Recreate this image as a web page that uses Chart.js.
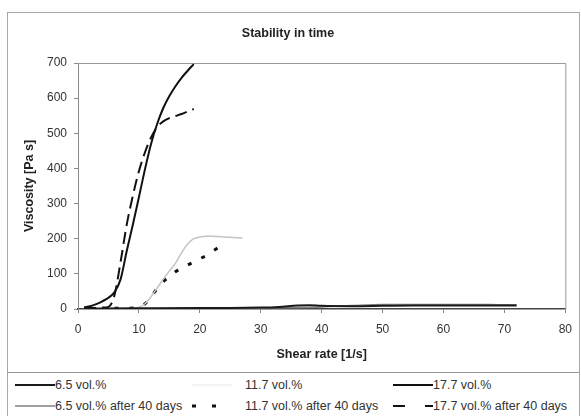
<!DOCTYPE html>
<html>
<head>
<meta charset="utf-8">
<script src="https://cdn.jsdelivr.net/npm/chart.js@4.4.1/dist/chart.umd.min.js"></script>
<style>
  html, body { margin: 0; padding: 0; background: #fff; }
  body { width: 581px; height: 416px; position: relative; overflow: hidden; font-family: "Liberation Sans", Arial, sans-serif; }
  .frame { position: absolute; left: 7px; top: 12px; width: 571px; height: 420px; border: 1px solid #a8a8a8; }
  .legendBox { position: absolute; left: 7px; top: 372px; width: 572px; height: 60px; border-top: 1px solid #999; }
  #wrap { position: absolute; left: 0; top: 0; width: 581px; height: 372px; }
  .lg { position: absolute; font-size: 12.5px; color: #333; white-space: nowrap; line-height: 14px; }
  .lg svg { position: absolute; }
</style>
</head>
<body>
<div class="frame"></div>
<div class="legendBox"></div>
<div id="wrap"><canvas id="c" width="581" height="372"></canvas></div>
<div id="legend"></div>
<script>
// shear rate [1/s] and viscosity [Pa s]
const x65 = [1, 10, 20, 25, 30, 33, 36, 38, 40, 45, 50, 55, 60, 65, 70, 72];
const y65 = [1, 2, 3, 3, 4, 6, 10, 11, 9, 8, 9, 10, 10, 10, 10, 10];

const x117 = [9, 10, 11, 12, 13, 14, 15, 16, 17, 18, 19, 20, 21, 22, 23, 24, 25, 26, 27];
const y117 = [2, 5, 15, 35, 60, 85, 108, 130, 160, 185, 200, 205, 207, 207, 206, 205, 204, 203, 202];

const x177 = [1, 2, 3, 4, 5, 6, 7, 8, 9, 10, 11, 12, 13, 14, 15, 16, 17, 18, 19];
const y177 = [5, 8, 14, 22, 32, 48, 85, 165, 240, 318, 398, 470, 527, 572, 606, 634, 658, 678, 697];

const x65d = [1, 10, 20, 30, 35, 40, 45, 50, 55, 60, 65, 70, 72];
const y65d = [1, 1, 2, 3, 4, 6, 10, 13, 13, 13, 13, 12, 12];

const x117d = [6, 7, 8, 9, 10, 11, 12, 13, 14, 15, 16, 17, 18, 19, 20, 21, 22, 23];
const y117d = [2, 2, 2, 3, 6, 15, 35, 58, 78, 92, 106, 115, 125, 134, 143, 152, 163, 175];

const x177d = [1, 2, 3, 4, 5, 6, 7, 8, 9, 10, 11, 12, 13, 14, 15, 16, 17, 18, 19];
const y177d = [3, 3, 3, 4, 6, 40, 135, 240, 322, 392, 446, 488, 518, 534, 543, 549, 555, 562, 569];

const xTicks = [0, 10, 20, 30, 40, 50, 60, 70, 80];
const yTicks = [0, 100, 200, 300, 400, 500, 600, 700];

const pts = (xs, ys) => xs.map((x, i) => ({ x: x, y: ys[i] }));

const datasets = [
  { label: '6.5 vol.%', data: pts(x65, y65), borderColor: '#1a1a1a', borderWidth: 2 },
  { label: '11.7 vol.%', data: pts(x117, y117), borderColor: '#c4c4c4', borderWidth: 1.5, legendColor: '#f0f0f0' },
  { label: '17.7 vol.%', data: pts(x177, y177), borderColor: '#111', borderWidth: 2 },
  { label: '6.5 vol.% after 40 days', data: pts(x65d, y65d), borderColor: '#808080', borderWidth: 1.5 },
  { label: '11.7 vol.% after 40 days', data: pts(x117d, y117d), borderColor: '#111', borderWidth: 3, borderDash: [4, 11], legendDash: [4, 16] },
  { label: '17.7 vol.% after 40 days', data: pts(x177d, y177d), borderColor: '#111', borderWidth: 2, borderDash: [12, 6], legendDash: [12, 20] }
];
datasets.forEach(d => {
  d.showLine = true;
  d.pointRadius = 0;
  d.fill = false;
  d.cubicInterpolationMode = 'monotone';
});

const plotFrame = {
  id: 'plotFrame',
  beforeDatasetsDraw(chart) {
    const a = chart.chartArea, ctx = chart.ctx;
    ctx.save();
    ctx.strokeStyle = '#999';
    ctx.lineWidth = 1;
    ctx.beginPath();
    ctx.moveTo(a.left, a.top + 0.5);
    ctx.lineTo(a.right + 0.5, a.top + 0.5);
    ctx.lineTo(a.right + 0.5, a.bottom);
    ctx.stroke();
    ctx.restore();
  }
};

const font = { family: '"Liberation Sans", Arial, sans-serif', size: 12 };
const boldFont = { family: '"Liberation Sans", Arial, sans-serif', size: 12.5, weight: 'bold' };

const chart = new Chart(document.getElementById('c'), {
  type: 'scatter',
  data: { datasets: datasets },
  options: {
    responsive: false,
    animation: false,
    layout: { padding: { left: 10, right: 15, top: 0, bottom: 0 } },
    plugins: {
      legend: { display: false },
      tooltip: { enabled: false },
      title: {
        display: true,
        text: 'Stability in time',
        color: '#222',
        font: boldFont,
        padding: { top: 26, bottom: 22 }
      }
    },
    scales: {
      x: {
        type: 'linear', min: 0, max: 80,
        afterBuildTicks: s => { s.ticks = xTicks.map(v => ({ value: v })); },
        afterFit: s => { s.height = 63; },
        ticks: { color: '#333', font: font, padding: 9, maxRotation: 0 },
        grid: { drawOnChartArea: false, tickLength: 4, color: '#888' },
        border: { color: '#444', width: 1.5 },
        title: { display: true, text: 'Shear rate [1/s]', color: '#222', font: boldFont, padding: { top: 0, bottom: 10 } }
      },
      y: {
        type: 'linear', min: 0, max: 700,
        afterBuildTicks: s => { s.ticks = yTicks.map(v => ({ value: v })); },
        afterFit: s => { s.width = 68; },
        ticks: { color: '#333', font: font, padding: 7 },
        grid: { drawOnChartArea: false, tickLength: 4, color: '#888' },
        border: { color: '#888', width: 1 },
        title: { display: true, text: 'Viscosity [Pa s]', color: '#222', font: boldFont, padding: { top: 12, bottom: 0 } }
      }
    }
  },
  plugins: [plotFrame]
});

// legend laid out in three columns and two rows, like the original
const legCols = [15, 192, 393];
const legRows = [385, 406];
const legend = document.getElementById('legend');
chart.data.datasets.forEach((d, i) => {
  const col = i % 3, row = Math.floor(i / 3);
  const item = document.createElement('div');
  item.className = 'lg';
  item.style.left = legCols[col] + 'px';
  item.style.top = (legRows[row] - 7) + 'px';
  const dash = d.legendDash ? d.legendDash.join(' ') : 'none';
  const color = d.legendColor || d.borderColor;
  item.innerHTML =
    '<svg width="40" height="14" style="left:0;top:0"><line x1="0" y1="7" x2="40" y2="7" stroke="' + color +
    '" stroke-width="' + d.borderWidth + '" stroke-dasharray="' + dash + '"/></svg>' +
    '<span style="position:absolute;left:' + (col === 1 ? 53 : 40) + 'px;top:0">' + d.label + '</span>';
  legend.appendChild(item);
});
</script>
</body>
</html>
